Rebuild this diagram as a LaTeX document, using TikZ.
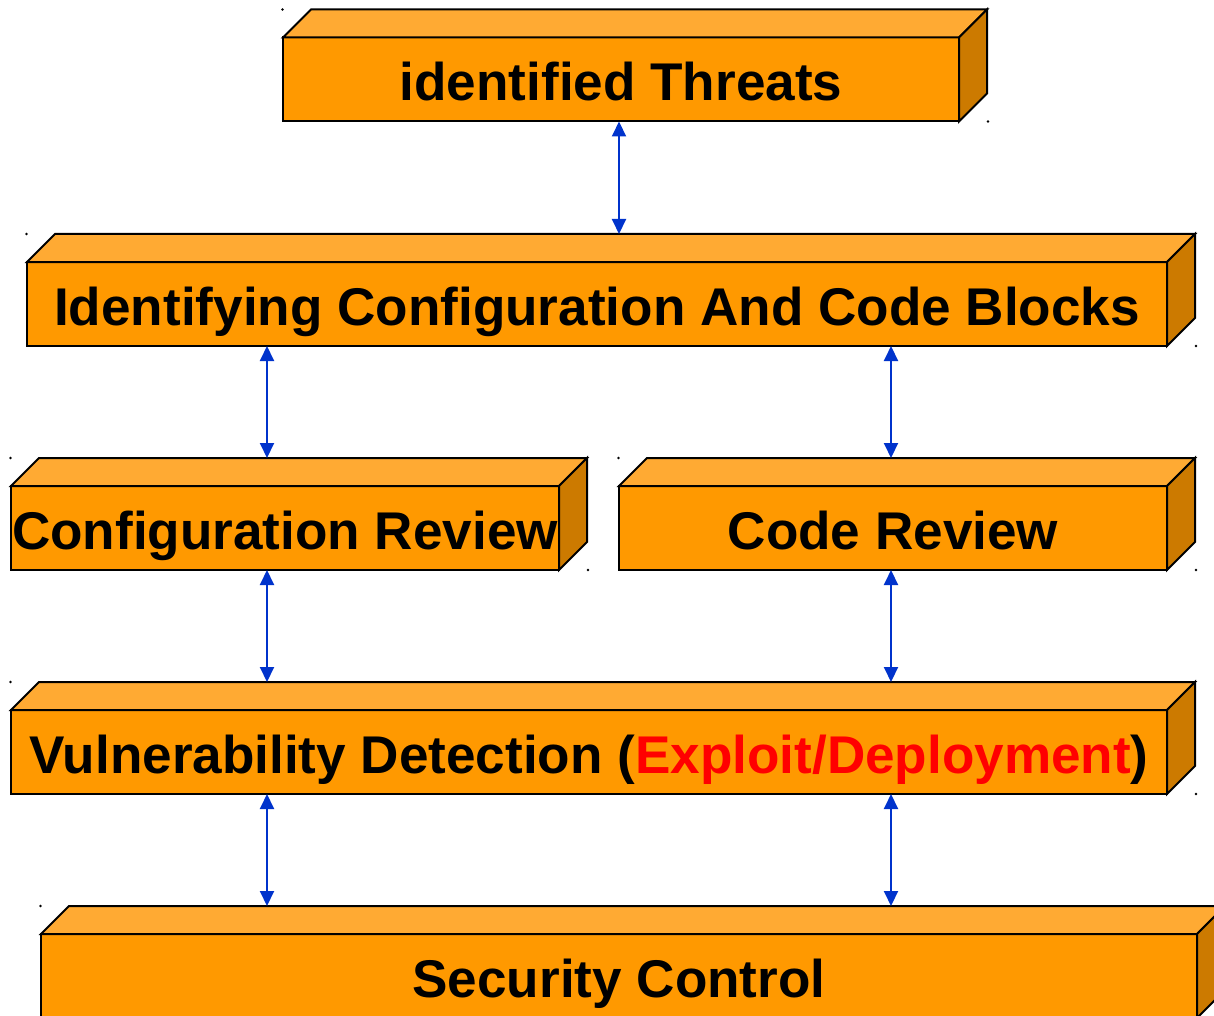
\documentclass[tikz,border=0pt]{standalone}
\usepackage{fontspec}
\setmainfont{Liberation Sans}
\usetikzlibrary{arrows.meta}
\definecolor{frontc}{HTML}{FF9900}
\definecolor{topc}{HTML}{FFAA33}
\definecolor{sidec}{HTML}{CC7A00}
\definecolor{linkc}{HTML}{0033CC}
\definecolor{hotc}{HTML}{FF0000}

% draws the top and right faces of a block whose front face is node #1
\newcommand\blockfaces[1]{%
  \filldraw[facepen, fill=topc] (#1.north west) -- ++(28pt,28pt)
    -- ([shift={(28pt,28pt)}]#1.north east) -- (#1.north east) -- cycle;
  \filldraw[facepen, fill=sidec] (#1.north east) -- ++(28pt,28pt)
    -- ([shift={(28pt,28pt)}]#1.south east) -- (#1.south east) -- cycle;
  \fill ([shift={(-0.5pt,28pt)}]#1.north west) circle (1.3pt);
  \fill ([shift={(29pt,0pt)}]#1.south east) circle (1.3pt);
}

\begin{document}
\begin{tikzpicture}[x=1pt, y=-1pt,
  block/.style={draw=black, fill=frontc, line width=2pt, inner sep=0pt,
    outer sep=0pt, minimum height=84pt, text height=42pt, text depth=0pt,
    font=\fontsize{53.1}{60}\selectfont\bfseries},
  facepen/.style={draw=black, line width=2pt, line join=miter},
  link/.style={draw=linkc, line width=2pt,
    {Triangle[length=15pt,width=14pt]}-{Triangle[length=15pt,width=14pt]}}]
\useasboundingbox (0,0) rectangle (1214,1016);
\clip (0,0) rectangle (1214,1016);

% column positions of the connectors
\coordinate (colL) at (267,0);
\coordinate (colR) at (891,0);
\coordinate (colM) at (619,0);

\node[block, minimum width=676pt] (threats) at (621,79.5) {identified Threats};
\blockfaces{threats}
\node[block, minimum width=1140pt] (blocks) at (597,304) {Identifying Configuration And Code Blocks};
\blockfaces{blocks}
\node[block, minimum width=548pt] (confrev) at (285,528) {\hbox to 548pt{\hss Configuration Review\hss}};
\blockfaces{confrev}
\node[block, minimum width=548pt] (coderev) at (893,528) {Code Review};
\blockfaces{coderev}
\node[block, minimum width=1156pt] (vuln) at (589,752)
  {Vulnerability Detection (\textcolor{hotc}{Exploit/Deployment})};
\blockfaces{vuln}
\node[block, minimum width=1156pt] (control) at (619,976) {Security Control};
\blockfaces{control}

% two-way links between the stages
\draw[link] (threats.south -| colM) -- ([yshift=28pt]blocks.north -| colM);
\draw[link] (blocks.south -| colL) -- ([yshift=28pt]confrev.north -| colL);
\draw[link] (blocks.south -| colR) -- ([yshift=28pt]coderev.north -| colR);
\draw[link] (confrev.south -| colL) -- ([yshift=28pt]vuln.north -| colL);
\draw[link] (coderev.south -| colR) -- ([yshift=28pt]vuln.north -| colR);
\draw[link] (vuln.south -| colL) -- ([yshift=28pt]control.north -| colL);
\draw[link] (vuln.south -| colR) -- ([yshift=28pt]control.north -| colR);
\end{tikzpicture}
\end{document}
